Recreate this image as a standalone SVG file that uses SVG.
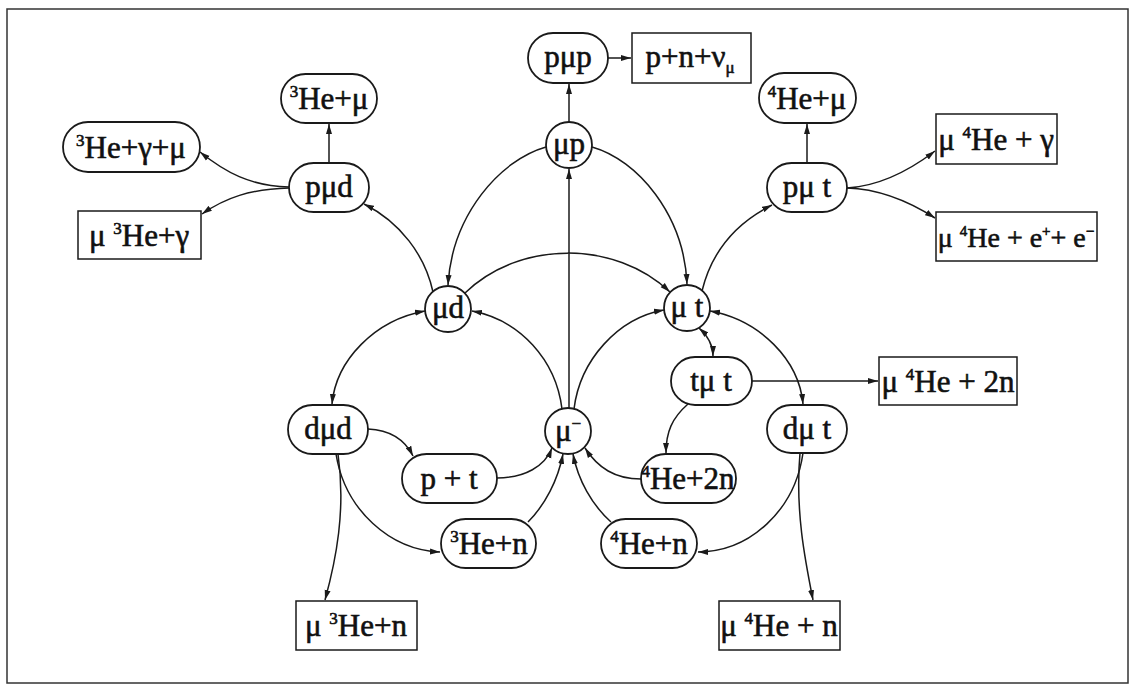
<svg xmlns="http://www.w3.org/2000/svg" width="1130" height="686" viewBox="0 0 1130 686">
<style>
.n{fill:#fff;stroke:#1a1a1a;stroke-width:1.8}
.b{fill:#fff;stroke:#1a1a1a;stroke-width:1.5}
.t{font-family:"Liberation Serif","Times New Roman",serif;font-size:31px;fill:#111;stroke:#111;stroke-width:0.6;text-anchor:middle}
.s{font-size:17px}
.c path{fill:none;stroke:#1a1a1a;stroke-width:1.5}
</style>
<defs>
<marker id="a" markerWidth="11" markerHeight="7" refX="10" refY="3.5" orient="auto-start-reverse" markerUnits="userSpaceOnUse">
<path d="M0,0.5 L10,3.5 L0,6.5 Z" fill="#1a1a1a"/>
</marker>
</defs>
<rect x="7" y="9" width="1121" height="674" fill="#fff" stroke="#333" stroke-width="1.5"/>
<g class="c">
<path d="M569,122 L569,84" marker-end="url(#a)"/>
<path d="M608,58 L631,58" marker-end="url(#a)"/>
<path d="M569,408 L569,169" marker-end="url(#a)"/>
<path d="M546,147 C500,160 452,215 448,285" marker-end="url(#a)"/>
<path d="M592,147 C638,160 684,215 687,284" marker-end="url(#a)"/>
<path d="M465,293 C520,240 615,240 670,292" marker-end="url(#a)"/>
<path d="M433,292 C425,255 400,222 364,204" marker-end="url(#a)"/>
<path d="M329,163 L329,124" marker-end="url(#a)"/>
<path d="M289,187 C250,186 225,172 200,152" marker-end="url(#a)"/>
<path d="M289,188 C250,189 225,198 202,214" marker-end="url(#a)"/>
<path d="M702,291 C712,250 738,222 772,205" marker-end="url(#a)"/>
<path d="M807,163 L807,124" marker-end="url(#a)"/>
<path d="M847,188 C880,186 910,170 935,151" marker-end="url(#a)"/>
<path d="M847,188 C880,189 910,202 935,218" marker-end="url(#a)"/>
<path d="M562,409 C556,360 520,320 472,311" marker-end="url(#a)"/>
<path d="M574,409 C580,360 618,318 664,310" marker-end="url(#a)"/>
<path d="M425,311 C375,320 336,360 332,404" marker-start="url(#a)" marker-end="url(#a)"/>
<path d="M710,311 C760,320 799,360 803,404" marker-start="url(#a)" marker-end="url(#a)"/>
<path d="M699,328 C708,336 713,345 713,356" marker-start="url(#a)" marker-end="url(#a)"/>
<path d="M752,381 L878,381" marker-end="url(#a)"/>
<path d="M688,404 C672,418 666,432 666,453" marker-end="url(#a)"/>
<path d="M803,453 C795,510 750,552 698,552" marker-end="url(#a)"/>
<path d="M800,453 C795,510 805,560 813,600" marker-end="url(#a)"/>
<path d="M368,429 C390,430 405,440 413,456" marker-end="url(#a)"/>
<path d="M336,454 C345,510 390,550 440,552" marker-end="url(#a)"/>
<path d="M338,454 C346,510 336,560 325,600" marker-end="url(#a)"/>
<path d="M497,478 C525,478 545,466 552,448" marker-end="url(#a)"/>
<path d="M528,522 C545,505 558,480 563,454" marker-end="url(#a)"/>
<path d="M641,479 C615,479 598,468 585,448" marker-end="url(#a)"/>
<path d="M611,522 C592,505 578,480 573,454" marker-end="url(#a)"/>
</g>
<g id="pmp"><rect class="n" x="528" y="33" width="80" height="50" rx="25"/><text class="t" x="568" y="67">pμp</text></g>
<g id="pnv"><rect class="b" x="632" y="33" width="119" height="50"/><text class="t" x="690" y="67">p+n+ν<tspan class="s" dy="6">μ</tspan></text></g>
<g id="mup"><circle class="n" cx="569" cy="145" r="23"/><text class="t" x="569" y="154">μp</text></g>
<g id="he3mu"><rect class="n" x="281" y="74" width="96" height="49" rx="24.5"/><text class="t" x="329" y="109"><tspan class="s" dy="-12">3</tspan><tspan dy="12">He+μ</tspan></text></g>
<g id="he3gmu"><rect class="n" x="63" y="122" width="137" height="50" rx="25"/><text class="t" x="131" y="158"><tspan class="s" dy="-12">3</tspan><tspan dy="12">He+γ+μ</tspan></text></g>
<g id="pmd"><rect class="n" x="289" y="163" width="80" height="49" rx="24.5"/><text class="t" x="329" y="197">pμd</text></g>
<g id="mhe3g"><rect class="b" x="78" y="211" width="123" height="48"/><text class="t" x="139" y="246">μ <tspan class="s" dy="-12">3</tspan><tspan dy="12">He+γ</tspan></text></g>
<g id="he4mu"><rect class="n" x="759" y="73" width="97" height="50" rx="25"/><text class="t" x="807" y="109"><tspan class="s" dy="-12">4</tspan><tspan dy="12">He+μ</tspan></text></g>
<g id="pmt"><rect class="n" x="767" y="163" width="80" height="49" rx="24.5"/><text class="t" x="807" y="197">pμ t</text></g>
<g id="mhe4g"><rect class="b" x="936" y="114" width="121" height="50"/><text class="t" x="996" y="150">μ <tspan class="s" dy="-12">4</tspan><tspan dy="12">He + γ</tspan></text></g>
<g id="mhe4ee"><rect class="b" x="936" y="212" width="161" height="49"/><text class="t" x="1016" y="247" style="font-size:28px">μ <tspan class="s" style="font-size:15px" dy="-11">4</tspan><tspan dy="11">He + e</tspan><tspan class="s" style="font-size:15px" dy="-11">+</tspan><tspan dy="11">+ e</tspan><tspan class="s" style="font-size:15px" dy="-11">−</tspan></text></g>
<g id="mud"><circle class="n" cx="448" cy="309" r="23"/><text class="t" x="448" y="318">μd</text></g>
<g id="mut"><circle class="n" cx="687" cy="308" r="23"/><text class="t" x="687" y="317">μ t</text></g>
<g id="tmt"><rect class="n" x="671" y="357" width="81" height="48" rx="24"/><text class="t" x="711" y="391">tμ t</text></g>
<g id="mhe42n"><rect class="b" x="879" y="357" width="138" height="48"/><text class="t" x="948" y="392">μ <tspan class="s" dy="-12">4</tspan><tspan dy="12">He + 2n</tspan></text></g>
<g id="dmd"><rect class="n" x="288" y="405" width="80" height="49" rx="24.5"/><text class="t" x="328" y="439">dμd</text></g>
<g id="dmt"><rect class="n" x="767" y="405" width="80" height="48" rx="24"/><text class="t" x="807" y="439">dμ t</text></g>
<g id="mum"><circle class="n" cx="568" cy="431" r="23"/><text class="t" x="568" y="441">μ<tspan class="s" dy="-12">−</tspan></text></g>
<g id="pt"><rect class="n" x="402" y="454" width="95" height="49" rx="24.5"/><text class="t" x="449" y="489">p + t</text></g>
<g id="he42n"><rect class="n" x="641" y="454" width="95" height="49" rx="24.5"/><text class="t" x="688" y="489"><tspan class="s" dy="-12">4</tspan><tspan dy="12">He+2n</tspan></text></g>
<g id="he3n"><rect class="n" x="441" y="519" width="95" height="49" rx="24.5"/><text class="t" x="489" y="554"><tspan class="s" dy="-12">3</tspan><tspan dy="12">He+n</tspan></text></g>
<g id="he4n"><rect class="n" x="601" y="519" width="96" height="49" rx="24.5"/><text class="t" x="649" y="554"><tspan class="s" dy="-12">4</tspan><tspan dy="12">He+n</tspan></text></g>
<g id="mhe3n"><rect class="b" x="296" y="601" width="121" height="49"/><text class="t" x="356" y="636">μ <tspan class="s" dy="-12">3</tspan><tspan dy="12">He+n</tspan></text></g>
<g id="mhe4n"><rect class="b" x="719" y="601" width="121" height="49"/><text class="t" x="779" y="636">μ <tspan class="s" dy="-12">4</tspan><tspan dy="12">He + n</tspan></text></g>
</svg>
